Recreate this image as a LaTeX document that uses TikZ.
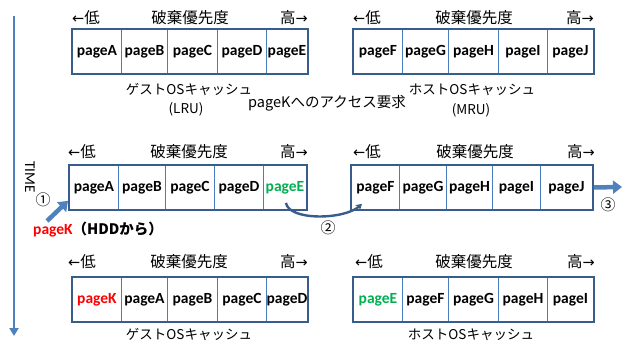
\documentclass[tikz,border=0pt]{standalone}
\usepackage{fontspec}
\usetikzlibrary{arrows.meta,calc}
\newfontfamily\jp{Noto Sans CJK JP}
\newfontfamily\pf{Carlito}
\newfontfamily\arr{DejaVu Sans}
\definecolor{outc}{HTML}{385D8A}
\definecolor{divc}{HTML}{4A7EBB}
\definecolor{fillc}{HTML}{4F81BD}
\definecolor{grn}{HTML}{00B050}
\definecolor{rd}{HTML}{FF0000}
\newcommand{\lowlab}{{\arr\fontsize{14.5}{14}\selectfont ←}低}
\newcommand{\highlab}{高{\arr\fontsize{14.5}{14}\selectfont →}}
\tikzset{
  cell/.style={draw=divc, line width=0.9pt, minimum height=44pt, inner sep=0pt, anchor=north west, font=\pf\bfseries\fontsize{15.5}{15}\selectfont},
  outer/.style={draw=outc, line width=1.6pt},
  hdr/.style={inner sep=0pt, font=\jp\fontsize{15.5}{16}\selectfont},
  captext/.style={inner sep=0pt, font=\jp\fontsize{13.5}{14}\selectfont},
  circ/.style={inner sep=0pt, font=\jp\fontsize{15}{15}\selectfont},
  blockarrow/.style={draw=fillc, line width=4.5pt, -{Triangle[length=9pt,width=13pt]}},
}
\begin{document}
\begin{tikzpicture}[x=1pt,y=-1pt]
\useasboundingbox (0,0) rectangle (623,347);

% time arrow
\coordinate (t0) at (14,16);
\coordinate (t1) at (14,336);
\draw[fillc, line width=2.8pt, -{Triangle[length=8pt,width=9pt]}] (t0) -- (t1);
\node[inner sep=0pt, rotate=-90, font=\pf\fontsize{15}{15}\selectfont] (time) at (30,177) {TIME};

% ---------- Row 1 guest ----------
\node[cell, minimum width=49pt] (g1a) at (72,29) {pageA};
\node[cell, minimum width=46pt] (g1b) at (121,29) {pageB};
\node[cell, minimum width=50pt] (g1c) at (167,29) {pageC};
\node[cell, minimum width=49pt] (g1d) at (217,29) {pageD};
\node[cell, minimum width=41pt] (g1e) at (266,29) {pageE};
\draw[outer] (g1a.north west) rectangle (g1e.south east);
\node[hdr, anchor=west] (g1lo) at (72,18) {\lowlab};
\node[hdr] (g1mid) at (190,18) {破棄優先度};
\node[hdr, anchor=east] (g1hi) at (308,18) {\highlab};
\node[captext] (g1cap) at (189,90) {ゲストOSキャッシュ};
\node[captext] (g1lru) at (186,109) {(LRU)};

% ---------- Row 1 host ----------
\node[cell, minimum width=49pt] (h1f) at (353,29) {pageF};
\node[cell, minimum width=46pt] (h1g) at (402,29) {pageG};
\node[cell, minimum width=50pt] (h1h) at (448,29) {pageH};
\node[cell, minimum width=49pt] (h1i) at (498,29) {pageI};
\node[cell, minimum width=46pt] (h1j) at (547,29) {pageJ};
\draw[outer] (h1f.north west) rectangle (h1j.south east);
\node[hdr, anchor=west] (h1lo) at (353,18) {\lowlab};
\node[hdr] (h1mid) at (474,18) {破棄優先度};
\node[hdr, anchor=east] (h1hi) at (594,18) {\highlab};
\node[captext] (h1cap) at (472,90) {ホストOSキャッシュ};
\node[captext] (h1mru) at (471,110) {(MRU)};

\node[inner sep=0pt, font=\jp\fontsize{14.5}{15}\selectfont] (req) at (327,103) {pageKへのアクセス要求};

% ---------- Row 2 guest ----------
\node[cell, minimum width=49pt] (g2a) at (69,165) {pageA};
\node[cell, minimum width=47pt] (g2b) at (118,165) {\raisebox{-3pt}{pageB}};
\node[cell, minimum width=49pt] (g2c) at (165,165) {pageC};
\node[cell, minimum width=49pt] (g2d) at (214,165) {pageD};
\node[cell, minimum width=43pt, text=grn] (g2e) at (263,165) {pageE};
\draw[outer] (g2a.north west) rectangle (g2e.south east);
\node[hdr, anchor=west] (g2lo) at (68,152) {\lowlab};
\node[hdr] (g2mid) at (189,152) {破棄優先度};
\node[hdr, anchor=east] (g2hi) at (308,152) {\highlab};

% ---------- Row 2 host ----------
\node[cell, minimum width=48pt] (h2f) at (351,165) {pageF};
\node[cell, minimum width=47pt] (h2g) at (399,165) {pageG};
\node[cell, minimum width=46pt] (h2h) at (446,165) {pageH};
\node[cell, minimum width=48pt] (h2i) at (492,165) {pageI};
\node[cell, minimum width=52pt] (h2j) at (540,165) {pageJ};
\draw[outer] (h2f.north west) rectangle (h2j.south east);
\node[hdr, anchor=west] (h2lo) at (353,152) {\lowlab};
\node[hdr] (h2mid) at (475,152) {破棄優先度};
\node[hdr, anchor=east] (h2hi) at (595,152) {\highlab};

% pageK from HDD
\node[inner sep=0pt, anchor=west, font=\fontsize{14.5}{15}\selectfont] (hdd) at (33,230)
  {{\pf\bfseries\fontsize{15.5}{15}\selectfont\textcolor{rd}{pageK}}{\jp\bfseries （HDDから）}};
\coordinate (a1s) at (47,221);
\coordinate (a1e) at ($(g2a.south west)+(-1,-9)$);
\draw[blockarrow] (a1s) -- (a1e);
\node[circ] (c1) at (43,200) {①};

% curve pageE -> pageF
\coordinate (cvs) at ($(g2e.south)+(1,-7)$);
\coordinate (cve) at ($(h2f.south west)+(11,-6)$);
\draw[outc, line width=2.4pt, -{Stealth[length=6pt,width=7pt]}] (cvs) .. controls ($(cvs)+(3,18)$) and ($(cve)+(-18,16)$) .. (cve);
\node[circ] (c2) at (328,228) {②};

% evict arrow
\coordinate (a3s) at ($(h2j.east)+(1,0)$);
\coordinate (a3e) at (622,187);
\draw[blockarrow] (a3s) -- (a3e);
\node[circ] (c3) at (608,205) {③};

% ---------- Row 3 guest ----------
\node[cell, minimum width=49pt, text=rd] (g3k) at (72,277) {pageK};
\node[cell, minimum width=46pt] (g3a) at (121,277) {pageA};
\node[cell, minimum width=50pt] (g3b) at (167,277) {pageB};
\node[cell, minimum width=49pt] (g3c) at (217,277) {pageC};
\node[cell, minimum width=41pt] (g3d) at (266,277) {pageD};
\draw[outer] (g3k.north west) rectangle (g3d.south east);
\node[hdr, anchor=west] (g3lo) at (68,262) {\lowlab};
\node[hdr] (g3mid) at (189,262) {破棄優先度};
\node[hdr, anchor=east] (g3hi) at (308,262) {\highlab};
\node[captext] (g3cap) at (189,335) {ゲストOSキャッシュ};

% ---------- Row 3 host ----------
\node[cell, minimum width=49pt, text=grn] (h3e) at (353,277) {pageE};
\node[cell, minimum width=46pt] (h3f) at (402,277) {pageF};
\node[cell, minimum width=50pt] (h3g) at (448,277) {pageG};
\node[cell, minimum width=49pt] (h3h) at (498,277) {pageH};
\node[cell, minimum width=46pt] (h3i) at (547,277) {pageI};
\draw[outer] (h3e.north west) rectangle (h3i.south east);
\node[hdr, anchor=west] (h3lo) at (355,262) {\lowlab};
\node[hdr] (h3mid) at (474,262) {破棄優先度};
\node[hdr, anchor=east] (h3hi) at (595,262) {\highlab};
\node[captext] (h3cap) at (471,335) {ホストOSキャッシュ};
\end{tikzpicture}
\end{document}
